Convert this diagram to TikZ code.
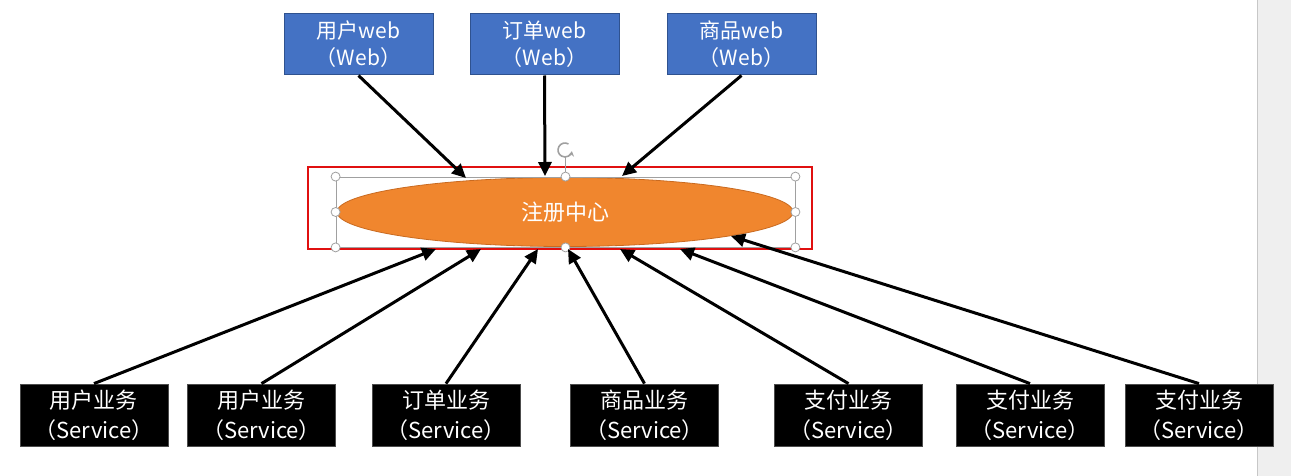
\documentclass[tikz,border=0pt]{standalone}
\usepackage{fontspec}
\newfontfamily\cjk{Noto Sans CJK SC}
\usetikzlibrary{shapes.geometric,arrows.meta}
\definecolor{webblue}{HTML}{4472C4}
\definecolor{webedge}{HTML}{2F528F}
\definecolor{regorange}{HTML}{F0862E}
\definecolor{regedge}{HTML}{C96A20}
\definecolor{selred}{HTML}{E01010}
\definecolor{handlegray}{HTML}{A0A0A0}
\definecolor{sidegray}{HTML}{EFEFEF}
\tikzset{
  webbox/.style={draw=webedge, line width=1pt, fill=webblue, text=white, minimum width=149pt, minimum height=61pt,
    inner sep=0pt, align=center, font=\cjk\fontsize{21}{27}\selectfont},
  svcbox/.style={draw=black!70, line width=0.8pt, fill=black, text=white, minimum width=148pt, minimum height=62pt,
    inner sep=0pt, align=center, font=\cjk\fontsize{22}{30}\selectfont},
  regnode/.style={ellipse, draw=regedge, line width=0.8pt, fill=regorange, text=white, minimum width=456pt, minimum height=69pt,
    inner sep=0pt, font=\cjk\fontsize{22}{24}\selectfont},
  conn/.style={line width=3pt, -{Triangle[length=14pt,width=13pt]}},
  handle/.style={circle, draw=handlegray, fill=white, line width=0.8pt, minimum size=9pt, inner sep=0pt},
}
\begin{document}
\begin{tikzpicture}[x=1pt,y=-1pt]
\useasboundingbox (0,0) rectangle (1291,476);
\fill[white] (0,0) rectangle (1291,476);
\fill[sidegray] (1257,0) rectangle (1291,476);
\draw[black!22, line width=1pt] (1257,0) -- (1257,476);

% top web boxes
\node[webbox] (uw) at (358.5,44.5) {用户web\\（Web）};
\node[webbox] (ow) at (544.5,44.5) {订单web\\（Web）};
\node[webbox] (pw) at (741.5,44.5) {商品web\\（Web）};

% registry
\node[regnode] (reg) at (565,212) {注册中心};
\node[draw=selred, line width=2pt, minimum width=504pt, minimum height=82pt, inner sep=0pt] (sel) at (560,208) {};
\node[draw=handlegray, line width=0.8pt, minimum width=459pt, minimum height=70pt, inner sep=0pt] (frame) at (565.5,212) {};
\draw[handlegray, line width=0.8pt] (frame.north) -- ++(0,-20) coordinate (rotbase);
\draw[handlegray, line width=1.6pt, -{Stealth[length=5pt,width=6pt]}] ([shift={(60:7pt)}]565,150) arc[start angle=60, end angle=350, radius=7pt];
\foreach \a in {north west,north,north east,west,east,south west,south,south east}
  \node[handle] at (frame.\a) {};

% bottom service boxes
\node[svcbox] (s1) at (94,415) {用户业务\\（Service）};
\node[svcbox] (s2) at (261.5,415) {用户业务\\（Service）};
\node[svcbox] (s3) at (446,415) {订单业务\\（Service）};
\node[svcbox] (s4) at (644.5,415) {商品业务\\（Service）};
\node[svcbox] (s5) at (848.5,415) {支付业务\\（Service）};
\node[svcbox] (s6) at (1030,415) {支付业务\\（Service）};
\node[svcbox] (s7) at (1199,415) {支付业务\\（Service）};

% arrow targets on the registry
\coordinate (t1) at (466,178);
\coordinate (t2) at (545,176);
\coordinate (t3) at (622,176);
\coordinate (b1) at (436,249);
\coordinate (b2) at (481,249);
\coordinate (b3) at (538,249);
\coordinate (b4) at (568,249);
\coordinate (b5) at (620,249);
\coordinate (b6) at (680,249);
\coordinate (b7) at (731,236);

\draw[conn] (uw.south) -- (t1);
\draw[conn] (ow.south) -- (t2);
\draw[conn] (pw.south) -- (t3);
\draw[conn] (s1.north) -- (b1);
\draw[conn] (s2.north) -- (b2);
\draw[conn] (s3.north) -- (b3);
\draw[conn] (s4.north) -- (b4);
\draw[conn] (s5.north) -- (b5);
\draw[conn] (s6.north) -- (b6);
\draw[conn] (s7.north) -- (b7);
\end{tikzpicture}
\end{document}
